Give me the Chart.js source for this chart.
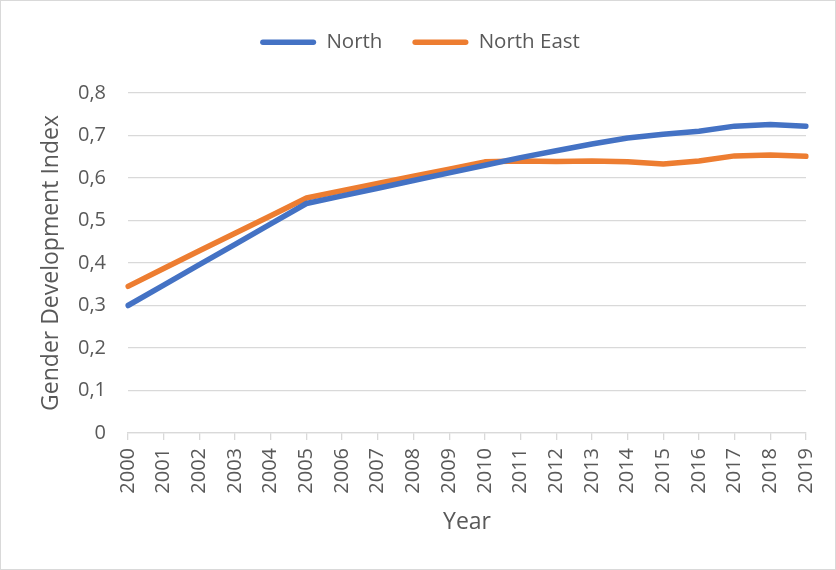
<!DOCTYPE html>
<html>
<head>
<meta charset="utf-8">
<script src="https://cdn.jsdelivr.net/npm/chart.js@4"></script>
<style>
  html, body { margin: 0; padding: 0; background: #fff; }
  #wrap { width: 836px; height: 570px; box-sizing: border-box; border: 1px solid #d9d9d9; background: #fff; }
  canvas { display: block; }
</style>
</head>
<body>
<div id="wrap"><canvas id="c" width="834" height="568"></canvas></div>
<script>
const years = ['2000','2001','2002','2003','2004','2005','2006','2007','2008','2009','2010','2011','2012','2013','2014','2015','2016','2017','2018','2019'];
const northValues = [0.300,0.348,0.396,0.444,0.492,0.540,0.558,0.576,0.594,0.612,0.630,0.648,0.664,0.680,0.694,0.703,0.710,0.722,0.726,0.722];
const northEastValues = [0.345,0.387,0.429,0.470,0.511,0.553,0.570,0.587,0.604,0.621,0.638,0.640,0.639,0.640,0.638,0.633,0.640,0.652,0.654,0.651];
const seriesNames = ['North', 'North East'];
const yAxisTitle = 'Gender Development Index';
const xAxisTitle = 'Year';

const FONT = "'Open Sans', sans-serif";
const TEXT = '#595959';
const GRID = '#d9d9d9';

const legendHeightPlugin = {
  id: 'legendHeight',
  afterInit(chart) {
    const lg = chart.legend;
    if (!lg) return;
    const orig = lg.fit;
    lg.fit = function () { orig.call(this); this.height = 91; };
  }
};

new Chart(document.getElementById('c'), {
  type: 'line',
  data: {
    labels: years,
    datasets: [
      { label: seriesNames[0], data: northValues, borderColor: '#4472C4', backgroundColor: '#4472C4' },
      { label: seriesNames[1], data: northEastValues, borderColor: '#ED7D31', backgroundColor: '#ED7D31' }
    ]
  },
  options: {
    responsive: false,
    animation: false,
    layout: { padding: { left: 33, right: 29, top: 1, bottom: 29 } },
    elements: {
      line: { borderWidth: 5.5, tension: 0, borderCapStyle: 'round', borderJoinStyle: 'round', fill: false },
      point: { radius: 0, hoverRadius: 0 }
    },
    plugins: {
      tooltip: { enabled: false },
      legend: {
        position: 'top',
        align: 'center',
        labels: {
          font: { family: FONT, size: 20.5 },
          color: TEXT,
          boxWidth: 56,
          boxHeight: 5.5,
          padding: 30,
          generateLabels(chart) {
            return chart.data.datasets.map((ds, i) => ({
              text: ds.label,
              fillStyle: ds.borderColor,
              strokeStyle: ds.borderColor,
              lineWidth: 0,
              fontColor: TEXT,
              borderRadius: 2.75,
              datasetIndex: i
            }));
          },
          useBorderRadius: true,
          borderRadius: 2.75
        }
      }
    },
    scales: {
      x: {
        type: 'category',
        offset: false,
        grid: { display: true, drawOnChartArea: false, drawTicks: true, tickLength: 7, color: GRID, lineWidth: 1.3, offset: false },
        border: { display: true, color: GRID, width: 1.3 },
        ticks: {
          font: { family: FONT, size: 20 },
          color: TEXT,
          minRotation: 90,
          maxRotation: 90,
          autoSkip: false,
          padding: 8
        },
        title: { display: true, text: xAxisTitle, font: { family: FONT, size: 23 }, color: TEXT, padding: { top: 4, bottom: 4 } },
        afterFit(scale) { scale.height = 107; scale.paddingLeft = 0; scale.paddingRight = 0; }
      },
      y: {
        min: 0,
        max: 0.8,
        grid: { color: GRID, lineWidth: 1.3, drawTicks: false },
        border: { display: false },
        ticks: {
          stepSize: 0.1,
          font: { family: FONT, size: 20 },
          color: TEXT,
          padding: 22,
          callback(v) { return v === 0 ? '0' : Number(v).toFixed(1).replace('.', ','); }
        },
        title: { display: true, text: yAxisTitle, font: { family: FONT, size: 23 }, color: TEXT, padding: { top: 4, bottom: 4 } },
        afterFit(scale) { scale.width = 94; scale.paddingTop = 0; scale.paddingBottom = 0; }
      }
    }
  },
  plugins: [legendHeightPlugin]
});
</script>
</body>
</html>
